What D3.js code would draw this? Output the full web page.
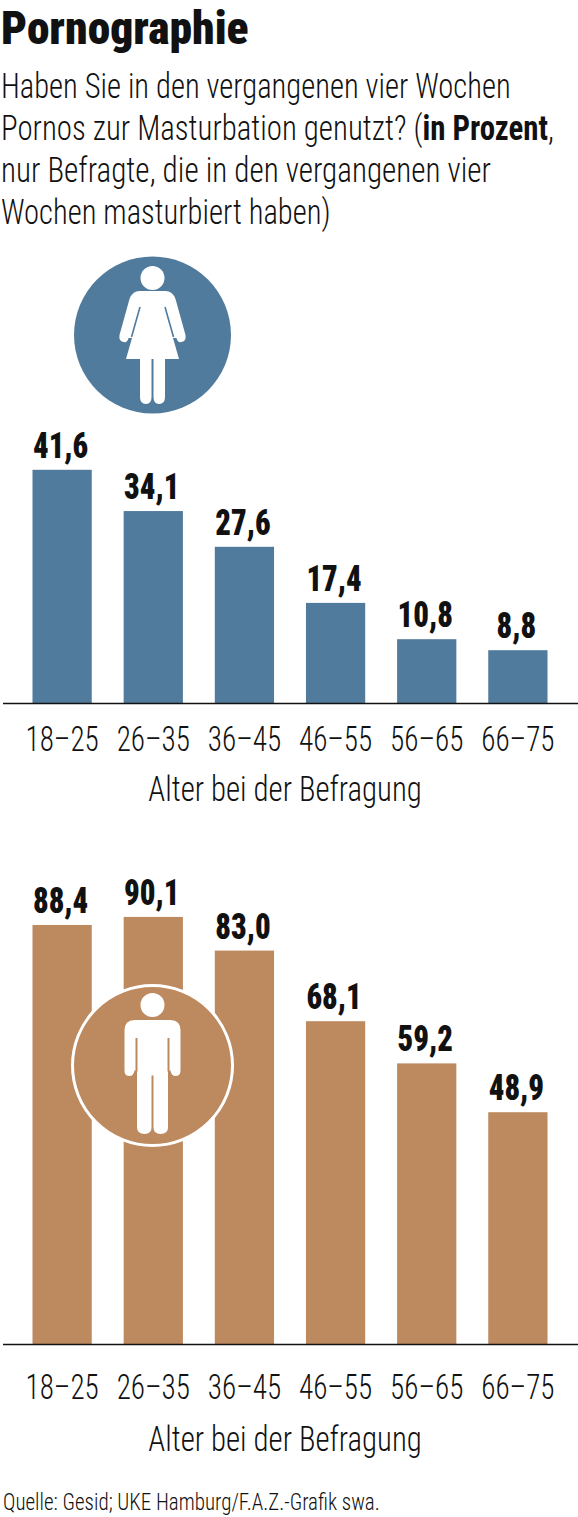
<!DOCTYPE html>
<html>
<head>
<meta charset="utf-8">
<script src="https://cdn.jsdelivr.net/npm/d3@7"></script>
<style>
  html, body { margin: 0; padding: 0; background: #fff; }
  svg { display: block; }
  text { font-family: "Roboto Condensed", "Liberation Sans Narrow", Roboto, sans-serif; fill: #111; }
</style>
</head>
<body>
<svg id="chart" width="578" height="1517"></svg>
<script>
const ageGroups = ['18–25', '26–35', '36–45', '46–55', '56–65', '66–75'];
const womenValues = ['41,6', '34,1', '27,6', '17,4', '10,8', '8,8'];
const menValues = ['88,4', '90,1', '83,0', '68,1', '59,2', '48,9'];
const titleText = 'Pornographie';
const subtitleLines = [
  [['Haben Sie in den vergangenen vier Wochen', false]],
  [['Pornos zur Masturbation genutzt? (', false], ['in Prozent', true], [',', false]],
  [['nur Befragte, die in den vergangenen vier', false]],
  [['Wochen masturbiert haben)', false]]
];
const axisLabel = 'Alter bei der Befragung';
const sourceText = 'Quelle: Gesid; UKE Hamburg/F.A.Z.-Grafik swa.';

const BLUE = '#507b9d';
const BROWN = '#bd895f';
const SUBTITLE_SCALE = [0.85, 0.858, 0.865, 0.85];

const svg = d3.select('#chart');
const num = (s) => +s.replace(',', '.');

// squeeze text horizontally, the original is set in a narrow face
function narrow(sel, x, y, sx) {
  return sel.attr('transform', `translate(${x},${y}) scale(${sx},1)`);
}

narrow(svg.append('text').text(titleText), 1, 44, 0.99)
  .attr('font-size', 46).attr('font-weight', 900);

subtitleLines.forEach((line, i) => {
  const t = narrow(svg.append('text'), 1, 98 + i * 42, SUBTITLE_SCALE[i]).attr('font-size', 36);
  line.forEach(([s, bold]) => t.append('tspan').text(s).attr('font-weight', bold ? 700 : 300));
});

function womanIcon(g) {
  g.append('circle').attr('r', 78.5).attr('fill', BLUE);
  g.append('circle').attr('cy', -57).attr('r', 12).attr('fill', '#fff');
  g.append('path').attr('fill', '#fff')
    .attr('d', 'M-13,-44 L13,-44 Q20,-44 23,-36 L33,0 Q34,6 29,7 Q25,8 24,3 L20.5,3 L26.5,24 L12.5,24 L12.5,62 Q12.5,69 6.5,69 Q1,69 1,62 L1,24 L-1,24 L-1,62 Q-1,69 -6.5,69 Q-12.5,69 -12.5,62 L-12.5,24 L-26.5,24 L-20.5,3 L-24,3 Q-25,8 -29,7 Q-34,6 -33,0 L-23,-36 Q-20,-44 -13,-44 Z');
  // thin gaps between arms and dress
  [-1, 1].forEach((s) => {
    g.append('line')
      .attr('x1', s * 12.5).attr('y1', -28).attr('x2', s * 21).attr('y2', 2)
      .attr('stroke', BLUE).attr('stroke-width', 1.6);
  });
}

function manIcon(g) {
  g.append('circle').attr('r', 80).attr('fill', BROWN).attr('stroke', '#fff').attr('stroke-width', 3);
  g.append('circle').attr('cy', -60.5).attr('r', 12).attr('fill', '#fff');
  g.append('path').attr('fill', '#fff')
    .attr('d', 'M-18,-45.5 L18,-45.5 Q28,-45.5 28,-35 L28,5 Q28,10.5 23,10.5 Q19,10.5 18,5 L15.5,5 L15.5,62 Q15.5,68.5 8,68.5 Q1,68.5 1,62 L1,10 L-1,10 L-1,62 Q-1,68.5 -8,68.5 Q-15.5,68.5 -15.5,62 L-15.5,5 L-18,5 Q-19,10.5 -23,10.5 Q-28,10.5 -28,5 L-28,-35 Q-28,-45.5 -18,-45.5 Z');
  // thin gaps between arms and torso
  [-1, 1].forEach((s) => {
    g.append('line')
      .attr('x1', s * 16).attr('y1', -27.5).attr('x2', s * 16).attr('y2', 6)
      .attr('stroke', BROWN).attr('stroke-width', 2);
  });
}

function panel(opts) {
  const { values, color, baseY, pxPerPct, yMin, tickDy, labelDy, icon, iconY } = opts;
  const x = d3.scaleBand().domain(ageGroups).range([17, 563]).paddingInner(0.35).paddingOuter(0.17);
  // the printed bars do not start exactly at zero, yMin picks that up
  const y = d3.scaleLinear().domain([yMin, 100]).range([baseY, baseY - (100 - yMin) * pxPerPct]);
  const data = ageGroups.map((a, i) => ({ age: a, label: values[i], value: num(values[i]) }));
  const g = svg.append('g');

  g.selectAll('rect').data(data).join('rect')
    .attr('x', (d) => x(d.age))
    .attr('width', x.bandwidth())
    .attr('y', (d) => y(d.value))
    .attr('height', (d) => y(yMin) - y(d.value))
    .attr('fill', color);

  g.selectAll('.val').data(data).join('text')
    .attr('class', 'val')
    .attr('text-anchor', 'middle')
    .attr('font-size', 37)
    .attr('font-weight', 900)
    .attr('transform', (d) => `translate(${x(d.age) + x.bandwidth() / 2 - 1.5},${y(d.value) - 12}) scale(0.83,1)`)
    .text((d) => d.label);

  const axis = g.append('g')
    .attr('transform', `translate(0,${baseY})`)
    .call(d3.axisBottom(x).tickSize(0).tickPadding(0));
  axis.attr('font-family', null).attr('font-size', null);
  axis.select('.domain').attr('d', 'M3,0.5H578').attr('stroke', '#111').attr('stroke-width', 1.5);
  axis.selectAll('text')
    .attr('font-size', 36).attr('font-weight', 300).attr('dy', 0).attr('y', 0)
    .attr('transform', `translate(0,${tickDy}) scale(0.81,1)`);

  narrow(g.append('text').text(axisLabel), 285, baseY + labelDy, 0.856)
    .attr('text-anchor', 'middle').attr('font-size', 36).attr('font-weight', 300);

  icon(g.append('g').attr('transform', `translate(152.5,${iconY})`));
}

panel({ values: womenValues, color: BLUE, baseY: 703, pxPerPct: 5.5, yMin: -0.8, tickDy: 48, labelDy: 98, icon: womanIcon, iconY: 335 });
panel({ values: menValues, color: BROWN, baseY: 1344, pxPerPct: 4.74, yMin: 0, tickDy: 55, labelDy: 107, icon: manIcon, iconY: 1065.5 });

narrow(svg.append('text').text(sourceText), 3, 1510, 0.875)
  .attr('font-size', 24).attr('font-weight', 300);
</script>
</body>
</html>
